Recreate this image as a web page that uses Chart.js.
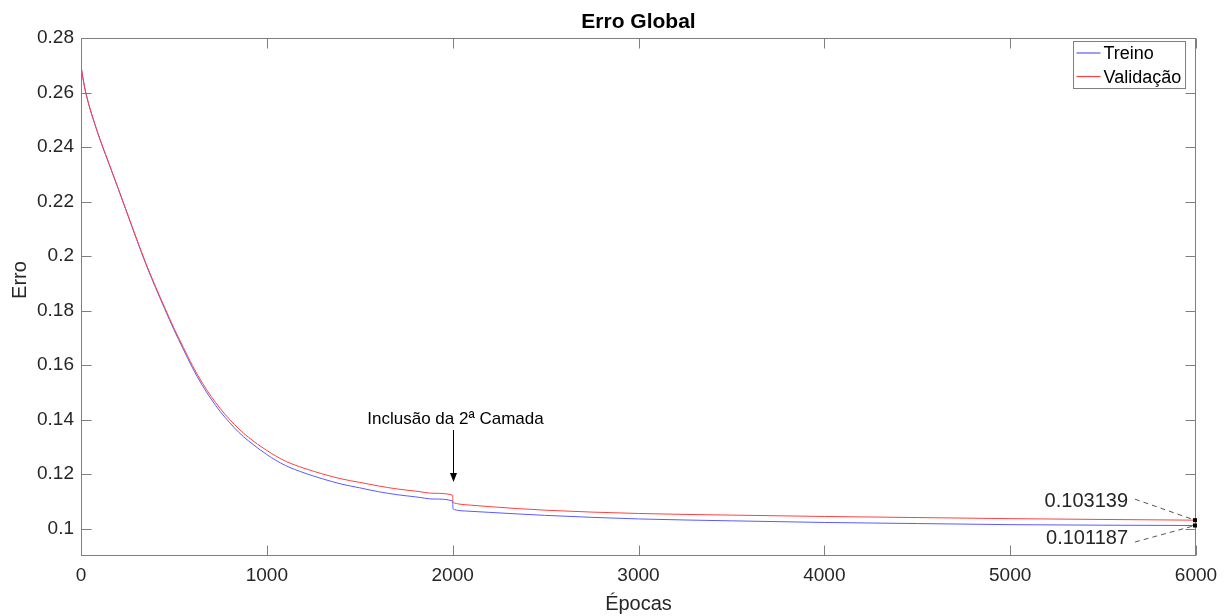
<!DOCTYPE html>
<html>
<head>
<meta charset="utf-8">
<script src="https://cdn.jsdelivr.net/npm/chart.js@4.4.1/dist/chart.umd.min.js"></script>
<style>
  html, body { margin: 0; padding: 0; background: #fff; }
  #grafico { display: block; }
</style>
</head>
<body>
<canvas id="grafico" width="1231" height="616"></canvas>
<script>
// dados (épocas x erro)
const epocas = [0, 10, 20, 30, 50, 75, 100, 150, 200, 250, 300, 350, 400, 450, 500, 550, 600, 650, 700, 750,
  800, 850, 900, 1000, 1100, 1200, 1300, 1400, 1500, 1600, 1700, 1800, 1900, 2000, 2001, 2010, 2030, 2070, 2200, 2500,
  3000, 3500, 4000, 4500, 5000, 5500, 6000];

const erroTreino = [0.2697, 0.2655, 0.2617, 0.2587, 0.2537, 0.2483, 0.2432, 0.2340, 0.2248, 0.2154,
  0.2060, 0.1969, 0.1886, 0.1807, 0.1730, 0.1659, 0.1590, 0.1529, 0.1476, 0.1429,
  0.1389, 0.1353, 0.1323, 0.1272, 0.1232, 0.1205, 0.1183, 0.1164, 0.1150, 0.1136,
  0.1125, 0.1117, 0.1109, 0.1102, 0.1076, 0.1070, 0.1067, 0.1065, 0.1060, 0.1049,
  0.1036, 0.1029, 0.1023, 0.1019, 0.1015, 0.1013, 0.101187];

const erroValidacao = [0.2697, 0.2655, 0.2617, 0.2587, 0.2537, 0.2483, 0.2432, 0.2340, 0.2248, 0.2155,
  0.2062, 0.1972, 0.1890, 0.1812, 0.1736, 0.1666, 0.1598, 0.1538, 0.1486, 0.1440,
  0.1401, 0.1366, 0.1336, 0.1287, 0.1248, 0.1222, 0.1201, 0.1183, 0.1170, 0.1157,
  0.1146, 0.1138, 0.1130, 0.1123, 0.1100, 0.1094, 0.1091, 0.1088, 0.1081, 0.1068,
  0.1056, 0.1050, 0.1045, 0.1041, 0.1037, 0.1034, 0.103139];

const ticksX = [0, 1000, 2000, 3000, 4000, 5000, 6000];
const ticksY = [0.1, 0.12, 0.14, 0.16, 0.18, 0.2, 0.22, 0.24, 0.26, 0.28];

const titulo = 'Erro Global';
const rotuloX = 'Épocas';
const rotuloY = 'Erro';
const nomesSeries = ['Treino', 'Validação'];
const coresSeries = ['#5a5aff', '#ff4040'];

// anotação da seta (em unidades dos dados)
const notaTexto = 'Inclusão da 2ª Camada';
const notaEpoca = 2000;
const notaErroTexto = 0.1402;
const notaErroSetaIni = 0.1362;
const notaErroSetaFim = 0.1171;

const FONTE = "'Liberation Sans', Arial, sans-serif";
Chart.defaults.font.family = FONTE;

const pontos = (serie) => epocas.map((e, i) => ({ x: e, y: serie[i] }));

// moldura estilo MATLAB + textos
const estiloMatlab = {
  id: 'estiloMatlab',
  afterDatasetsDraw(chart) {
    const { ctx, chartArea: a, scales: { x, y } } = chart;
    const L = Math.round(a.left) + 0.5, R = Math.round(a.right) - 0.5;
    const T = Math.round(a.top) + 0.5, B = Math.round(a.bottom) - 0.5;
    ctx.save();

    // caixa e ticks para dentro
    ctx.strokeStyle = '#7f7f7f';
    ctx.lineWidth = 1;
    ctx.strokeRect(L, T, R - L, B - T);
    ctx.beginPath();
    ticksX.forEach(v => {
      const px = Math.round(x.getPixelForValue(v)) + 0.5;
      ctx.moveTo(px, B); ctx.lineTo(px, B - 10);
      ctx.moveTo(px, T); ctx.lineTo(px, T + 10);
    });
    ticksY.forEach(v => {
      const py = Math.round(y.getPixelForValue(v)) + 0.5;
      ctx.moveTo(L, py); ctx.lineTo(L + 10, py);
      ctx.moveTo(R, py); ctx.lineTo(R - 10, py);
    });
    ctx.stroke();

    // título e rótulos dos eixos
    ctx.fillStyle = '#000';
    ctx.textAlign = 'center';
    ctx.textBaseline = 'middle';
    ctx.font = 'bold 21px ' + FONTE;
    ctx.fillText(titulo, (a.left + a.right) / 2, 22);
    ctx.fillStyle = '#262626';
    ctx.font = '20px ' + FONTE;
    ctx.fillText(rotuloX, (a.left + a.right) / 2, 604);
    ctx.save();
    ctx.translate(20, 280);
    ctx.rotate(-Math.PI / 2);
    ctx.fillText(rotuloY, 0, 0);
    ctx.restore();

    // legenda
    const lx = 1073.5, ly = 41.5, lw = 112, lh = 47;
    ctx.fillStyle = '#fff';
    ctx.fillRect(lx, ly, lw, lh);
    ctx.strokeStyle = '#7f7f7f';
    ctx.strokeRect(lx, ly, lw, lh);
    ctx.font = '18px ' + FONTE;
    ctx.textAlign = 'left';
    nomesSeries.forEach((nome, i) => {
      const yy = 53 + i * 23.5;
      ctx.strokeStyle = coresSeries[i];
      ctx.lineWidth = 1.2;
      ctx.beginPath(); ctx.moveTo(lx + 3, yy); ctx.lineTo(lx + 27, yy); ctx.stroke();
      ctx.fillStyle = '#000';
      ctx.fillText(nome, lx + 30, yy + 1.5);
    });
    ctx.lineWidth = 1;

    // anotação com seta
    const ax = Math.round(x.getPixelForValue(notaEpoca)) + 0.5;
    const yIni = y.getPixelForValue(notaErroSetaIni);
    const yFim = y.getPixelForValue(notaErroSetaFim);
    ctx.fillStyle = '#000';
    ctx.font = '17px ' + FONTE;
    ctx.textAlign = 'center';
    ctx.fillText(notaTexto, ax + 2, y.getPixelForValue(notaErroTexto));
    ctx.strokeStyle = '#000';
    ctx.beginPath(); ctx.moveTo(ax, yIni); ctx.lineTo(ax, yFim - 6); ctx.stroke();
    ctx.beginPath();
    ctx.moveTo(ax, yFim); ctx.lineTo(ax - 3.5, yFim - 9); ctx.lineTo(ax + 3.5, yFim - 9); ctx.closePath();
    ctx.fill();

    // data tips nos valores finais
    const n = epocas.length - 1;
    ctx.font = '20px ' + FONTE;
    ctx.textAlign = 'right';
    [[erroValidacao, -19, -2], [erroTreino, 13, 3.5]].forEach(([serie, dy, dl]) => {
      const px = x.getPixelForValue(epocas[n]);
      const py = y.getPixelForValue(serie[n]);
      ctx.strokeStyle = '#555';
      ctx.setLineDash([5, 4]);
      ctx.beginPath(); ctx.moveTo(px - 61, py + dy + dl); ctx.lineTo(px - 1, py); ctx.stroke();
      ctx.setLineDash([]);
      ctx.fillStyle = '#000';
      ctx.fillRect(px - 3, py - 2, 4, 4);
      ctx.fillStyle = '#262626';
      ctx.fillText(String(serie[n]), px - 68, py + dy);
    });

    ctx.restore();
  }
};

new Chart(document.getElementById('grafico'), {
  type: 'line',
  data: {
    datasets: [
      {
        label: nomesSeries[0],
        data: pontos(erroTreino),
        borderColor: coresSeries[0],
        borderWidth: 1,
        pointRadius: 0,
        cubicInterpolationMode: 'monotone',
        order: 2,
      },
      {
        label: nomesSeries[1],
        data: pontos(erroValidacao),
        borderColor: coresSeries[1],
        borderWidth: 1,
        pointRadius: 0,
        cubicInterpolationMode: 'monotone',
        order: 1,
      },
    ],
  },
  options: {
    responsive: false,
    animation: false,
    devicePixelRatio: 1,
    layout: { padding: { left: 0, right: 35, top: 38, bottom: 0 } },
    plugins: { legend: { display: false }, tooltip: { enabled: false } },
    scales: {
      x: {
        type: 'linear',
        min: 0,
        max: 6000,
        afterBuildTicks: (s) => { s.ticks = ticksX.map(v => ({ value: v })); },
        afterFit: (s) => { s.height = 60; },
        ticks: { font: { size: 19 }, color: '#262626', padding: 8, maxRotation: 0, callback: (v) => String(v) },
        grid: { display: false, drawTicks: false },
        border: { display: false },
      },
      y: {
        type: 'linear',
        min: 0.09,
        max: 0.28,
        afterBuildTicks: (s) => { s.ticks = ticksY.map(v => ({ value: v })); },
        afterFit: (s) => { s.width = 81; },
        ticks: { font: { size: 19 }, color: '#262626', padding: 7, callback: (v) => String(+v.toFixed(4)) },
        grid: { display: false, drawTicks: false },
        border: { display: false },
      },
    },
  },
  plugins: [estiloMatlab],
});
</script>
</body>
</html>
